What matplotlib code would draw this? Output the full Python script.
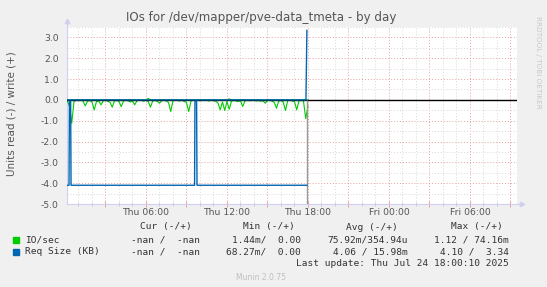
import numpy as np
import matplotlib
matplotlib.use("Agg")
import matplotlib.pyplot as plt
from matplotlib.ticker import MultipleLocator

# ---- data (hours since Thu 00:00) ----
# IO/sec, read side (magnitude, drawn negative), one value per 10 min
io_read = [
    0.04, 0.30, 1.12, 0.08, 0.02, 0.03,
    0.02, 0.05, 0.29, 0.06, 0.03, 0.10,
    0.48, 0.08, 0.05, 0.24, 0.04, 0.02,
    0.06, 0.12, 0.35, 0.05, 0.03, 0.08,
    0.32, 0.06, 0.02, 0.04, 0.10, 0.05,
    0.24, 0.04, 0.02, 0.03, 0.06, 0.02,
    0.08, 0.35, 0.05, 0.03, 0.06, 0.16,
    0.04, 0.02, 0.05, 0.12, 0.56, 0.04,
    0.02, 0.03, 0.05, 0.02, 0.08, 0.12,
    0.56, 0.05, 0.02, 0.03, 0.02, 0.04,
    0.02, 0.03, 0.02, 0.05, 0.02, 0.04,
    0.06, 0.15, 0.48, 0.10, 0.51, 0.08,
    0.45, 0.06, 0.03, 0.05, 0.08, 0.04,
    0.32, 0.05, 0.02, 0.04, 0.03, 0.02,
    0.05, 0.03, 0.06, 0.04, 0.16, 0.03,
    0.02, 0.06, 0.12, 0.40, 0.05, 0.03,
    0.10, 0.51, 0.04, 0.02, 0.05, 0.08,
    0.48, 0.04, 0.03, 0.05, 0.90, 0.30,
]
io_hours = np.arange(1, len(io_read) + 1) / 6.0

io_write_hours = [0.17, 6.0, 6.17, 6.33, 12.0, 12.17, 12.33, 18.0]
io_write = [0.0, 0.0, 0.07, 0.0, 0.0, 0.05, 0.0, 0.0]

# Req Size (KB)
req_read_hours = [0.15, 0.30, 0.33, 0.42, 0.45, 9.60, 9.63, 9.75, 9.78, 17.92]
req_read = [4.10, 4.10, 0.07, 0.07, 4.10, 4.10, 0.07, 0.07, 4.10, 4.10]
req_write_hours = [0.15, 17.85, 17.92]
req_write = [0.0, 0.0, 3.34]

now_hour = 17.92

tick_hours = [6, 12, 18, 24, 30]
tick_labels = ["Thu 06:00", "Thu 12:00", "Thu 18:00", "Fri 00:00", "Fri 06:00"]

# ---- figure ----
BG = "#F0F0F0"
fig = plt.figure(figsize=(5.47, 2.87), dpi=100, facecolor=BG)
ax = fig.add_axes([67 / 547, 83 / 287, 450 / 547, 177 / 287])
ax.set_facecolor("white")
ax.set_xlim(0.15, 0.15 + 450 / 13.5)
ax.set_ylim(-5.0, 3.5)

for s in ax.spines.values():
    s.set_visible(False)

ax.xaxis.set_major_locator(MultipleLocator(3))
ax.xaxis.set_minor_locator(MultipleLocator(1))
ax.yaxis.set_major_locator(MultipleLocator(1))
ax.yaxis.set_minor_locator(MultipleLocator(0.5))
ax.grid(which="minor", color="#d8d8d8", linestyle=(0, (1, 2)), linewidth=0.7)
ax.grid(which="major", color="#e6a0a0", linestyle=(0, (1, 2)), linewidth=0.7)
ax.set_axisbelow(True)

ax.tick_params(which="both", colors="#e6a0a0", direction="inout", length=4, width=0.7,
               labelcolor="#555555", labelsize=6.7)
ax.tick_params(which="minor", colors="#cccccc", length=3)
ax.yaxis.set_major_formatter(matplotlib.ticker.FormatStrFormatter("%.1f"))
ax.tick_params(axis="y", which="both", length=0, pad=6)
ax.tick_params(axis="x", which="major", labelbottom=False)

for h, lab in zip(tick_hours, tick_labels):
    ax.text(h, -5.0 - 0.18, lab, ha="center", va="top", fontsize=6.7, color="#555555")

# axis lines with arrows
axc = "#cfcff0"
ax.plot([0.15, 33.6], [-5, -5], color=axc, lw=0.8, clip_on=False, zorder=1)
ax.plot([0.15, 0.15], [-5, 3.75], color=axc, lw=0.8, clip_on=False, zorder=1)
ax.plot(33.85, -5, marker=">", color=axc, ms=3.2, clip_on=False)
ax.plot(0.15, 3.78, marker="^", color=axc, ms=3.2, clip_on=False)

# data
green = "#00CC00"
blue = "#0066B3"
ax.plot(io_hours, -np.array(io_read), color=green, lw=0.8, zorder=3)
ax.plot(io_write_hours, io_write, color=green, lw=0.8, zorder=3)
ax.axhline(0, color="black", lw=1.0, zorder=4)
ax.plot(req_read_hours, -np.array(req_read), color=blue, lw=1.0, zorder=5)
ax.plot(req_write_hours, req_write, color=blue, lw=1.0, zorder=5)
ax.vlines(now_hour, -5.0, 0.0, color="#999999", lw=1.0, zorder=4)

# texts
fig.text(261 / 547, 1 - 18 / 287, "IOs for /dev/mapper/pve-data_tmeta - by day",
         ha="center", va="center", fontsize=8.6, color="#555555")
fig.text(12 / 547, 1 - 114 / 287, "Units read (-) / write (+)", rotation=90,
         ha="center", va="center", fontsize=7.5, color="#555555")
fig.text(538 / 547, 1 - 62 / 287, "RRDTOOL / TOBI OETIKER", rotation=270,
         ha="center", va="center", fontsize=5.2, color="#c8c8c8")

mono = dict(family="DejaVu Sans Mono", fontsize=6.8, color="#333333", va="center")
def row(y, items):
    for xr, s in items:
        fig.text(xr / 547, 1 - y / 287, s, ha="right", **mono)

row(227, [(192, "Cur (-/+)"), (295, "Min (-/+)"), (398, "Avg (-/+)"), (503, "Max (-/+)")])
row(240, [(200, "-nan /  -nan"), (301, "1.44m/  0.00"), (408, "75.92m/354.94u"), (509, "1.12 / 74.16m")])
row(252, [(200, "-nan /  -nan"), (301, "68.27m/  0.00"), (408, "4.06 / 15.98m"), (509, "4.10 /  3.34")])
row(264, [(509, "Last update: Thu Jul 24 18:00:10 2025")])
fig.text(25 / 547, 1 - 240 / 287, "IO/sec", ha="left", **mono)
fig.text(25 / 547, 1 - 252 / 287, "Req Size (KB)", ha="left", **mono)
fig.patches.append(plt.Rectangle((13 / 547, 1 - 243 / 287), 6 / 547, 6 / 287,
                                 transform=fig.transFigure, color=green))
fig.patches.append(plt.Rectangle((13 / 547, 1 - 255 / 287), 6 / 547, 6 / 287,
                                 transform=fig.transFigure, color=blue))
fig.text(261 / 547, 1 - 277 / 287, "Munin 2.0.75", ha="center", va="center",
         fontsize=5.5, color="#c0c0c0")

fig.savefig("out.png", dpi=100, facecolor=BG)
